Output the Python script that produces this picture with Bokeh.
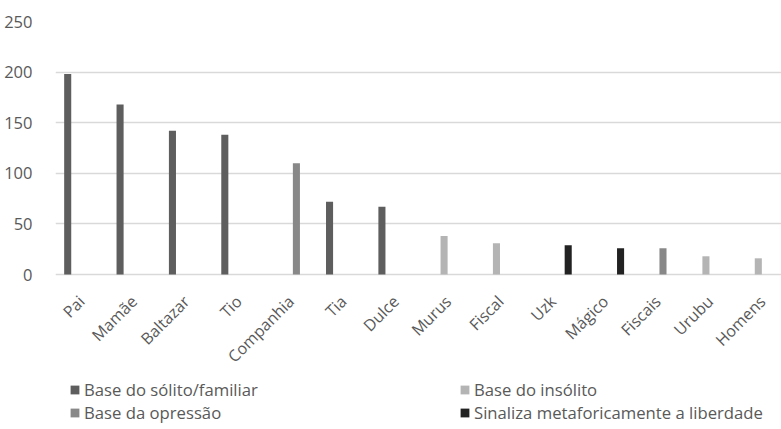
import math
from bokeh.plotting import figure
from bokeh.models import Range1d, FixedTicker, Legend, LegendItem
from bokeh.embed import file_html
from bokeh.resources import INLINE

# ---- data ----
categories = ["Pai", "Mamãe", "Baltazar", "Tio", "Companhia", "Tia", "Dulce",
              "Murus", "Fiscal", "Uzk", "Mágico", "Fiscais", "Urubu", "Homens"]
solito    = [198, 168, 142, 138, 0, 72, 67, 0, 0, 0, 0, 0, 0, 0]
insolito  = [0, 0, 0, 0, 0, 0, 0, 38, 31, 0, 0, 0, 18, 16]
opressao  = [0, 0, 0, 0, 110, 0, 0, 0, 0, 0, 0, 26, 0, 0]
liberdade = [0, 0, 0, 0, 0, 0, 0, 0, 0, 29, 26, 0, 0, 0]
series_names = ["Base do sólito/familiar", "Base do insólito",
                "Base da opressão", "Sinaliza metaforicamente a liberdade"]
y_ticks = [0, 50, 100, 150, 200, 250]

# ---- style ----
FONT = "Open Sans"
TXT = "#595959"
colors = ["#5e5e5e", "#b4b4b4", "#888888", "#222222"]
offsets = [-0.267, -0.08, 0.10, 0.29]
BAR_W = 0.135

W, H = 781, 429
TOP = 21
PX_PER_UNIT = 253 / 250.0               # vertical scale of the value axis
y_min = 250 - (H - TOP) / PX_PER_UNIT   # room below zero for labels + legend

p = figure(width=W, height=H, output_backend="svg", toolbar_location=None,
           x_range=Range1d(-0.5, 13.363), y_range=Range1d(y_min, 250),
           min_border_left=55, min_border_right=0, min_border_top=TOP,
           min_border_bottom=0, outline_line_color=None)

xs = list(range(len(categories)))
all_series = [solito, insolito, opressao, liberdade]
renderers = []
for vals, col, off in zip(all_series, colors, offsets):
    r = p.vbar(x=[x + off for x in xs], top=vals, width=BAR_W,
               fill_color=col, line_color=None)
    renderers.append(r)

# grid
p.xgrid.visible = False
p.ygrid.grid_line_color = "#d9d9d9"
p.ygrid.grid_line_width = 1.5
p.ygrid.ticker = FixedTicker(ticks=y_ticks)

ya = p.yaxis[0]
ya.ticker = FixedTicker(ticks=y_ticks)
ya.axis_line_color = None
ya.major_tick_line_color = None
ya.minor_tick_line_color = None
ya.major_label_standoff = 17
ya.major_label_text_font = FONT
ya.major_label_text_font_size = "16.5px"
ya.major_label_text_color = TXT

xa = p.xaxis[0]
xa.fixed_location = 0
xa.ticker = FixedTicker(ticks=xs)
xa.major_label_overrides = {i: c for i, c in enumerate(categories)}
xa.axis_line_color = None
xa.major_tick_line_color = None
xa.minor_tick_line_color = None
xa.major_label_orientation = math.pi / 4
xa.major_label_standoff = 18
xa.major_label_text_font = FONT
xa.major_label_text_font_size = "16px"
xa.major_label_text_color = TXT

items = [LegendItem(label=n, renderers=[r]) for n, r in zip(series_names, renderers)]
legend = Legend(items=items, orientation="horizontal", ncols=2,
                location=(14, 5), margin=0, padding=0,
                border_line_color=None, background_fill_alpha=0,
                glyph_width=11, glyph_height=11, label_standoff=4,
                label_width=375, label_height=20, spacing=0,
                label_text_font=FONT, label_text_font_size="16.7px",
                label_text_color=TXT, label_text_baseline="middle")
p.add_layout(legend)

open("out.html", "w").write(file_html(p, INLINE))
